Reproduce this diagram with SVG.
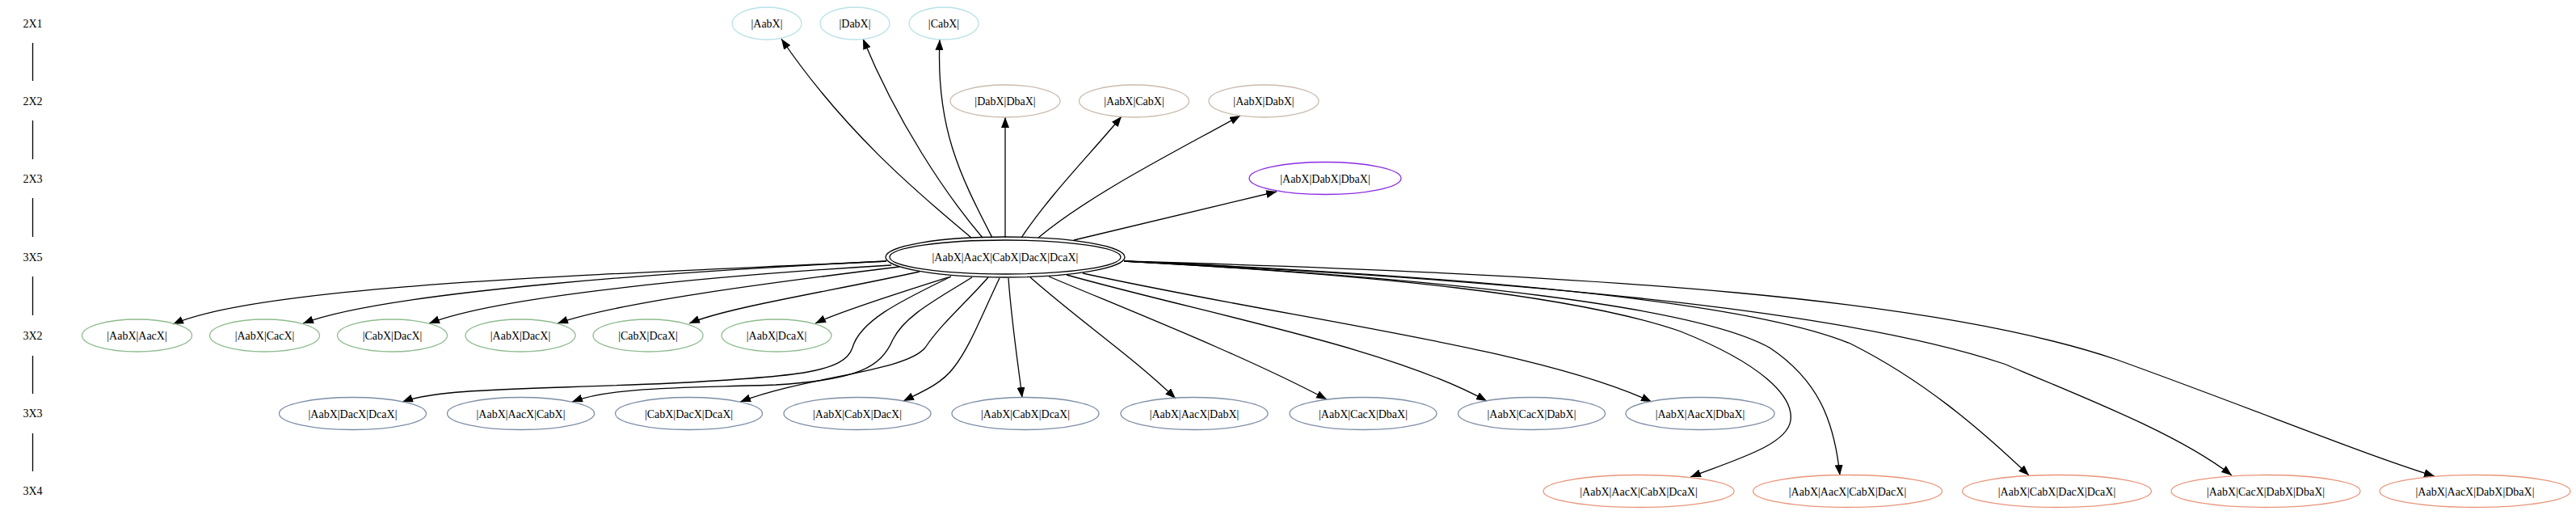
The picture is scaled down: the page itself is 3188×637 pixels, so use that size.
<svg xmlns="http://www.w3.org/2000/svg" width="3188" height="637" viewBox="0 0 3188 637">
<style>
text{font-family:"Liberation Serif","Times New Roman",serif;font-size:14px;fill:#000;text-anchor:middle}
.n ellipse{fill:none;stroke-width:1.3}
.r1 ellipse{stroke:#b8e2e8}
.r2 ellipse{stroke:#cbbcae}
.r3 ellipse{stroke:#8a2be2}
.r5 ellipse{stroke:#000}
.g ellipse{stroke:#8fbc8f}
.s ellipse{stroke:#7d8ea5}
.o ellipse{stroke:#e9967a}
#edges path{fill:none;stroke:#000;stroke-width:1.3;marker-end:url(#ah)}
#ranks line{stroke:#000;stroke-width:1.3}
</style>
<defs>
<marker id="ah" markerUnits="userSpaceOnUse" markerWidth="13" markerHeight="10" viewBox="0 0 13 10" refX="13" refY="5" orient="auto">
<path d="M0,0 L13,5 L0,10 z" fill="#000"/>
</marker>
</defs>
<rect width="3188" height="637" fill="#fff"/>
<g id="ranks">
<text x="40.5" y="34">2X1</text>
<text x="40.5" y="130">2X2</text>
<text x="40.5" y="226">2X3</text>
<text x="40.5" y="323">3X5</text>
<text x="40.5" y="420">3X2</text>
<text x="40.5" y="516">3X3</text>
<text x="40.5" y="612">3X4</text>
<line x1="40.5" y1="53" x2="40.5" y2="100"/>
<line x1="40.5" y1="149" x2="40.5" y2="197"/>
<line x1="40.5" y1="245" x2="40.5" y2="293"/>
<line x1="40.5" y1="342" x2="40.5" y2="390"/>
<line x1="40.5" y1="440" x2="40.5" y2="487"/>
<line x1="40.5" y1="536" x2="40.5" y2="583"/>
</g>
<g id="edges">
<path d="M1202,294 C1150,250 1050,170 967,48"/>
<path d="M1216,294 C1170,240 1110,150 1068,48"/>
<path d="M1228,294 C1190,220 1158,160 1163,49"/>
<path d="M1244,294 L1244,145"/>
<path d="M1264,294 C1300,240 1350,190 1388,144"/>
<path d="M1285,294 C1350,240 1450,190 1535,143"/>
<path d="M1329,297 L1580,237"/>
<path d="M1097,323 C800,338 330,350 214,401"/>
<path d="M1097,323 C850,335 480,360 375,400"/>
<path d="M1103,328 C900,340 620,365 531,400"/>
<path d="M1113,330 C950,350 760,375 690,400"/>
<path d="M1138,336 C1030,360 900,380 853,400"/>
<path d="M1177,342 C1120,360 1040,385 1009,400"/>
<path d="M1177,342 C1120,370 1065,395 1055,430 C1045,460 990,466 830,474 C650,482 545,480 498,497"/>
<path d="M1203,343 C1160,370 1120,390 1105,420 C1090,455 1060,470 960,476 C850,480 760,478 708,497"/>
<path d="M1223,343 C1195,375 1165,400 1145,430 C1120,460 1000,465 916,497"/>
<path d="M1237,344 C1215,390 1200,430 1180,455 C1165,475 1140,485 1118,496"/>
<path d="M1248,344 C1252,400 1260,450 1265,492"/>
<path d="M1275,343 C1340,400 1400,440 1455,493"/>
<path d="M1298,342 C1400,385 1540,440 1642,494"/>
<path d="M1320,340 C1500,390 1720,430 1840,496"/>
<path d="M1340,338 C1600,395 1900,430 2044,497"/>
<path d="M1391,323 C1700,340 1950,365 2080,410 C2180,450 2220,490 2216,520 C2212,550 2150,568 2092,590"/>
<path d="M1391,323 C1800,345 2100,380 2190,430 C2250,470 2270,520 2277,588"/>
<path d="M1391,323 C1900,345 2180,380 2290,425 C2380,470 2450,530 2511,588"/>
<path d="M1391,323 C1950,350 2300,390 2480,450 C2600,500 2700,540 2762,588"/>
<path d="M1391,323 C2000,340 2400,370 2620,445 C2800,510 2920,560 3013,589"/>
</g>
<g id="n_AabX" class="n r1"><ellipse cx="949" cy="29" rx="43" ry="20"/><text x="949" y="34">|AabX|</text></g>
<g id="n_DabX" class="n r1"><ellipse cx="1058" cy="29" rx="43" ry="20"/><text x="1058" y="34">|DabX|</text></g>
<g id="n_CabX" class="n r1"><ellipse cx="1168" cy="29" rx="43" ry="20"/><text x="1168" y="34">|CabX|</text></g>
<g id="n_DabX_DbaX" class="n r2"><ellipse cx="1244" cy="125" rx="68" ry="20"/><text x="1244" y="130">|DabX|DbaX|</text></g>
<g id="n_AabX_CabX" class="n r2"><ellipse cx="1403.5" cy="125" rx="68" ry="20"/><text x="1403.5" y="130">|AabX|CabX|</text></g>
<g id="n_AabX_DabX" class="n r2"><ellipse cx="1564" cy="125" rx="68" ry="20"/><text x="1564" y="130">|AabX|DabX|</text></g>
<g id="n_AabX_DabX_DbaX" class="n r3"><ellipse cx="1640" cy="220.5" rx="94" ry="20"/><text x="1640" y="225.5">|AabX|DabX|DbaX|</text></g>
<g id="n_center" class="n r5"><ellipse cx="1244" cy="318" rx="148" ry="25"/><ellipse cx="1244" cy="318" rx="143" ry="21"/><text x="1244" y="323">|AabX|AacX|CabX|DacX|DcaX|</text></g>
<g id="n_AabX_AacX" class="n g"><ellipse cx="169.5" cy="415" rx="68" ry="20"/><text x="169.5" y="420">|AabX|AacX|</text></g>
<g id="n_AabX_CacX" class="n g"><ellipse cx="327.5" cy="415" rx="68" ry="20"/><text x="327.5" y="420">|AabX|CacX|</text></g>
<g id="n_CabX_DacX" class="n g"><ellipse cx="485.5" cy="415" rx="68" ry="20"/><text x="485.5" y="420">|CabX|DacX|</text></g>
<g id="n_AabX_DacX" class="n g"><ellipse cx="644" cy="415" rx="68" ry="20"/><text x="644" y="420">|AabX|DacX|</text></g>
<g id="n_CabX_DcaX" class="n g"><ellipse cx="802" cy="415" rx="68" ry="20"/><text x="802" y="420">|CabX|DcaX|</text></g>
<g id="n_AabX_DcaX" class="n g"><ellipse cx="961" cy="415" rx="68" ry="20"/><text x="961" y="420">|AabX|DcaX|</text></g>
<g id="n_AabX_DacX_DcaX" class="n s"><ellipse cx="436.5" cy="511.5" rx="91" ry="20"/><text x="436.5" y="516.5">|AabX|DacX|DcaX|</text></g>
<g id="n_AabX_AacX_CabX" class="n s"><ellipse cx="644.5" cy="511.5" rx="91" ry="20"/><text x="644.5" y="516.5">|AabX|AacX|CabX|</text></g>
<g id="n_CabX_DacX_DcaX" class="n s"><ellipse cx="852.5" cy="511.5" rx="91" ry="20"/><text x="852.5" y="516.5">|CabX|DacX|DcaX|</text></g>
<g id="n_AabX_CabX_DacX" class="n s"><ellipse cx="1061" cy="511.5" rx="91" ry="20"/><text x="1061" y="516.5">|AabX|CabX|DacX|</text></g>
<g id="n_AabX_CabX_DcaX" class="n s"><ellipse cx="1269" cy="511.5" rx="91" ry="20"/><text x="1269" y="516.5">|AabX|CabX|DcaX|</text></g>
<g id="n_AabX_AacX_DabX" class="n s"><ellipse cx="1478" cy="511.5" rx="91" ry="20"/><text x="1478" y="516.5">|AabX|AacX|DabX|</text></g>
<g id="n_AabX_CacX_DbaX" class="n s"><ellipse cx="1687" cy="511.5" rx="91" ry="20"/><text x="1687" y="516.5">|AabX|CacX|DbaX|</text></g>
<g id="n_AabX_CacX_DabX" class="n s"><ellipse cx="1895.5" cy="511.5" rx="91" ry="20"/><text x="1895.5" y="516.5">|AabX|CacX|DabX|</text></g>
<g id="n_AabX_AacX_DbaX" class="n s"><ellipse cx="2104" cy="511.5" rx="92" ry="20"/><text x="2104" y="516.5">|AabX|AacX|DbaX|</text></g>
<g id="n_AabX_AacX_CabX_DcaX" class="n o"><ellipse cx="2028" cy="607.5" rx="118" ry="20"/><text x="2028" y="612.5">|AabX|AacX|CabX|DcaX|</text></g>
<g id="n_AabX_AacX_CabX_DacX" class="n o"><ellipse cx="2286.5" cy="607.5" rx="117" ry="20"/><text x="2286.5" y="612.5">|AabX|AacX|CabX|DacX|</text></g>
<g id="n_AabX_CabX_DacX_DcaX" class="n o"><ellipse cx="2545.5" cy="607.5" rx="117" ry="20"/><text x="2545.5" y="612.5">|AabX|CabX|DacX|DcaX|</text></g>
<g id="n_AabX_CacX_DabX_DbaX" class="n o"><ellipse cx="2804" cy="607.5" rx="117" ry="20"/><text x="2804" y="612.5">|AabX|CacX|DabX|DbaX|</text></g>
<g id="n_AabX_AacX_DabX_DbaX" class="n o"><ellipse cx="3063" cy="607.5" rx="118" ry="20"/><text x="3063" y="612.5">|AabX|AacX|DabX|DbaX|</text></g>
</svg>
